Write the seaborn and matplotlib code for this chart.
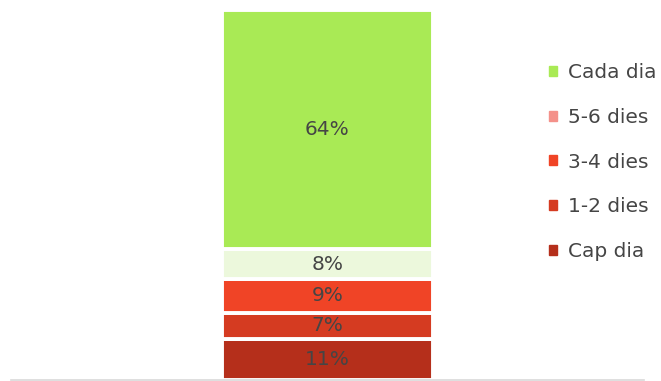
import seaborn as sns
import matplotlib.pyplot as plt
import matplotlib.patches as mpatches
import pandas as pd

categories = ["Cap dia", "1-2 dies", "3-4 dies", "5-6 dies", "Cada dia"]
values = [11, 7, 9, 8, 64]
bar_colors = ["#b52f1b", "#d53b21", "#f04426", "#ecf8dc", "#a9ea55"]
legend_colors = ["#b52f1b", "#d53b21", "#f04426", "#f4918a", "#a9ea55"]

sns.set_style("white")
plt.rcParams['font.family'] = ['DejaVu Sans']

df = pd.DataFrame({"grup": ["Total"] * len(values), "Categoria": categories, "Valor": values})

fig = plt.figure(figsize=(6.61, 3.81), dpi=100)
ax = fig.add_axes([0.0166, 0.003, 0.957, 0.973])

bottom = 0
for i, row in df.iterrows():
    sns.barplot(x=[row["grup"]], y=[row["Valor"]], bottom=bottom, color=bar_colors[i],
                width=0.333, edgecolor="white", linewidth=2.8, ax=ax, saturation=1)
    ax.text(0, bottom + row["Valor"] / 2, f"{row['Valor']}%", ha="center", va="center",
            fontsize=14.5, color="#454545")
    bottom += row["Valor"]

ax.set_xlim(-0.5, 0.5)
ax.set_ylim(0, 99.3)
ax.set_xticks([])
ax.set_yticks([])
ax.set_xlabel("")
ax.set_ylabel("")
for s in ["top", "left", "right"]:
    ax.spines[s].set_visible(False)
ax.spines["bottom"].set_color("#d9d9d9")
ax.spines["bottom"].set_linewidth(1.2)

handles = [mpatches.Patch(color=legend_colors[i], label=categories[i]) for i in range(len(categories))][::-1]
leg = fig.legend(handles=handles, loc="upper left", bbox_to_anchor=(0.803, 0.881), frameon=False,
                 fontsize=14.5, handlelength=0.38, handleheight=0.38, handletextpad=0.55,
                 labelspacing=1.27, labelcolor="#454545")

fig.savefig("out.png", dpi=100)
